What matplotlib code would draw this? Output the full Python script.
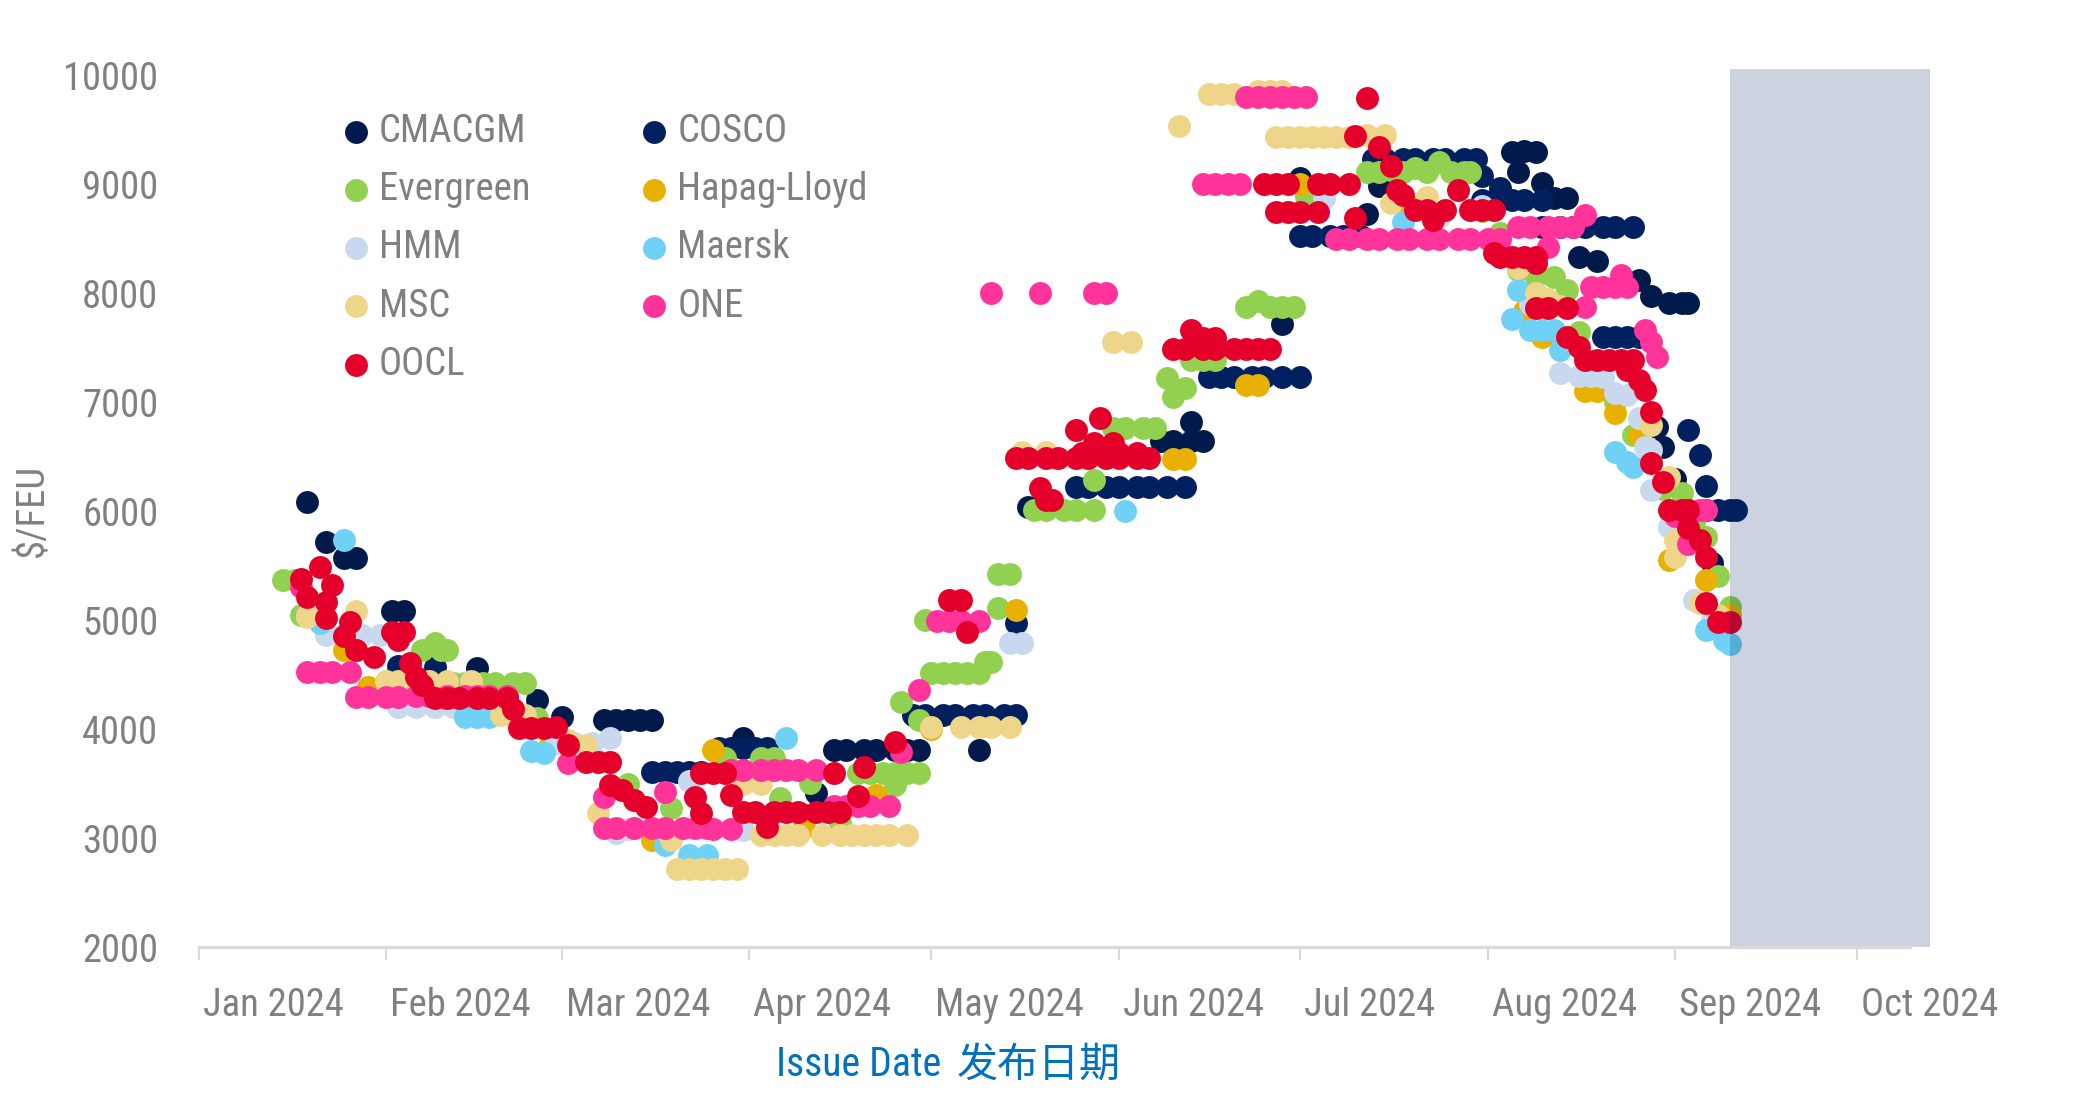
import os
import matplotlib
matplotlib.use('Agg')
import matplotlib.pyplot as plt
import matplotlib.dates as mdates
import matplotlib.transforms as mtransforms
from matplotlib import font_manager as fm
from matplotlib.textpath import TextPath
import pandas as pd

# ---------------- data (day offset from 2024-01-01, $/FEU) ----------------
carriers = ['CMACGM', 'COSCO', 'Evergreen', 'Hapag-Lloyd', 'HMM', 'Maersk', 'MSC', 'ONE', 'OOCL']
colors = ['#021A4B', '#002060', '#92D050', '#E8B000', '#C8D8EE', '#6FD1F6', '#EFD58A', '#FF3399', '#E4002B']

cmacgm_day = [18, 21, 24, 26, 32, 34, 46, 56, 60, 67,
              69, 71, 73, 75, 90, 100, 102, 105, 107, 110,
              112, 115, 117, 119, 129, 137, 159, 161, 164, 166,
              164, 179, 182, 193, 195, 217, 219, 221, 218, 222,
              224, 226, 228, 231, 238, 240, 243, 245, 246, 241,
              242, 244, 250]
cmacgm_val = [6080, 5720, 5570, 5570, 5080, 5080, 4560, 4270, 4110, 4080,
              4080, 4080, 4080, 4080, 3920, 3210, 3410, 3810, 3810, 3810,
              3810, 3810, 3810, 3810, 3810, 6040, 6640, 6640, 6640, 6640,
              6820, 7720, 9060, 8730, 8980, 9290, 9300, 9290, 9110, 9010,
              8870, 8870, 8330, 8290, 8120, 7970, 7910, 7910, 7910, 6770,
              6590, 6290, 5520]

cosco_day = [33, 39, 75, 77, 79, 81, 83, 86, 88, 90,
             92, 94, 118, 120, 123, 125, 128, 130, 133, 135,
             135, 145, 147, 150, 152, 155, 157, 160, 163, 167,
             169, 171, 174, 176, 179, 182, 182, 184, 187, 189,
             192, 194, 196, 199, 201, 204, 206, 209, 211, 212,
             215, 212, 214, 217, 219, 222, 222, 225, 227, 229,
             232, 234, 237, 232, 234, 236, 238, 246, 248, 249,
             249, 251, 253, 254]
cosco_val = [4580, 4570, 3610, 3610, 3610, 3610, 3610, 3830, 3830, 3830,
             3830, 3830, 4130, 4130, 4130, 4130, 4130, 4130, 4130, 4130,
             4970, 6220, 6220, 6220, 6220, 6220, 6220, 6220, 6220, 7230,
             7230, 7230, 7230, 7230, 7230, 7230, 8520, 8520, 8520, 8520,
             8520, 9230, 9230, 9230, 9230, 9230, 9230, 9230, 9230, 9070,
             8960, 8850, 8850, 8850, 8850, 8850, 8610, 8610, 8610, 8610,
             8610, 8610, 8610, 7600, 7600, 7600, 7600, 6740, 6510, 6230,
             6010, 6010, 6010, 6010]

evergreen_day = [14, 16, 17, 37, 39, 40, 41, 42, 44, 47,
                 49, 52, 54, 56, 66, 68, 71, 78, 87, 93,
                 95, 96, 101, 106, 109, 111, 113, 115, 117, 119,
                 115, 116, 119, 120, 121, 123, 125, 127, 129, 130,
                 131, 132, 132, 134, 138, 140, 143, 145, 148, 148,
                 151, 153, 156, 158, 160, 161, 163, 164, 166, 168,
                 173, 175, 177, 179, 181, 183, 184, 193, 195, 197,
                 199, 201, 203, 205, 207, 209, 210, 212, 215, 218,
                 221, 224, 226, 228, 231, 234, 237, 240, 242, 245,
                 247, 249, 251, 253]
evergreen_val = [5370, 5370, 5050, 4725, 4790, 4725, 4725, 4420, 4420, 4420,
                 4420, 4420, 4420, 4100, 3710, 3700, 3500, 3275, 3734, 3734,
                 3734, 3370, 3505, 3140, 3600, 3600, 3600, 3600, 3600, 3600,
                 3490, 4250, 4080, 5000, 4510, 4510, 4510, 4510, 4510, 4615,
                 4615, 5110, 5420, 5420, 6010, 6010, 6010, 6010, 6010, 6285,
                 6760, 6760, 6760, 6760, 7220, 7050, 7130, 7385, 7385, 7385,
                 7870, 7930, 7870, 7870, 7870, 8890, 8930, 9110, 9110, 9130,
                 9110, 9150, 9110, 9200, 9110, 9110, 9110, 8750, 8550, 8210,
                 8150, 8150, 8030, 7640, 7300, 7000, 6700, 6450, 6200, 6165,
                 5900, 5760, 5400, 5120]

hapag_day = [18, 24, 28, 35, 48, 58, 75, 85, 100, 112,
             121, 135, 141, 161, 163, 173, 175, 182, 200, 219,
             222, 229, 231, 234, 238, 243, 249, 253]
hapag_val = [5050, 4725, 4390, 4450, 4200, 3850, 2980, 3810, 3100, 3395,
             4000, 5090, 6500, 6480, 6480, 7160, 7160, 9000, 8800, 7840,
             7600, 7100, 7100, 6900, 6700, 5550, 5370, 5050]

hmm_day = [18, 21, 24, 27, 30, 33, 36, 39, 42, 45,
           48, 59, 62, 65, 68, 69, 71, 81, 90, 134,
           136, 186, 205, 212, 220, 225, 228, 230, 232, 234,
           236, 238, 239, 240, 240, 243, 247, 250]
hmm_val = [5050, 4860, 4860, 4860, 4860, 4205, 4205, 4205, 4205, 4205,
           4205, 3870, 3870, 3870, 3920, 3050, 3080, 3520, 3075, 4790,
           4790, 8870, 8700, 8800, 7900, 7270, 7240, 7240, 7230, 7080,
           7064, 6850, 6590, 6560, 6190, 5850, 5180, 5000]

maersk_day = [20, 24, 44, 46, 48, 55, 57, 77, 81, 84,
              97, 153, 199, 217, 218, 220, 222, 224, 225, 234,
              236, 237, 249, 252, 253]
maersk_val = [4970, 5730, 4110, 4110, 4110, 3800, 3780, 2940, 2840, 2840,
              3920, 6000, 8650, 7760, 8030, 7660, 7660, 7660, 7480, 6540,
              6450, 6400, 4910, 4820, 4780]

msc_day = [18, 26, 31, 33, 36, 38, 41, 45, 50, 52,
           54, 61, 64, 66, 78, 79, 81, 83, 85, 87,
           89, 90, 93, 93, 95, 97, 99, 103, 106, 108,
           110, 112, 114, 117, 121, 126, 129, 131, 134, 136,
           140, 151, 154, 162, 167, 169, 171, 175, 177, 179,
           178, 180, 182, 184, 186, 188, 190, 193, 196, 197,
           203, 218, 221, 223, 225, 240, 243, 244, 244, 248,
           251]
msc_val = [5030, 5080, 4440, 4440, 4440, 4440, 4440, 4440, 4130, 4130,
           4130, 3900, 3850, 3230, 2980, 2720, 2720, 2720, 2720, 2720,
           2720, 3500, 3500, 3030, 3030, 3030, 3030, 3030, 3030, 3030,
           3030, 3030, 3030, 3030, 4020, 4020, 4020, 4020, 4020, 6540,
           6540, 7550, 7550, 9530, 9830, 9830, 9830, 9850, 9850, 9850,
           9430, 9430, 9430, 9430, 9430, 9430, 9430, 9450, 9450, 8830,
           8880, 8230, 8000, 7950, 7880, 6790, 6315, 5734, 5580, 5160,
           5050]

one_day = [17, 18, 20, 22, 25, 26, 28, 31, 33, 36,
           38, 41, 44, 46, 48, 51, 61, 67, 67, 69,
           72, 75, 77, 77, 80, 82, 84, 85, 88, 88,
           90, 93, 95, 97, 99, 102, 105, 107, 109, 111,
           114, 116, 119, 122, 124, 126, 129, 131, 139, 148,
           150, 166, 168, 170, 172, 173, 175, 177, 179, 181,
           183, 188, 190, 193, 195, 198, 200, 203, 205, 208,
           210, 213, 215, 218, 220, 223, 225, 227, 229, 223,
           229, 230, 232, 234, 235, 236, 239, 240, 241, 244,
           246, 248, 249, 246]
one_val = [5300, 4520, 4520, 4520, 4520, 4290, 4290, 4290, 4290, 4300,
           4300, 4300, 4300, 4300, 4300, 4300, 3690, 3380, 3090, 3090,
           3090, 3090, 3090, 3425, 3090, 3090, 3090, 3080, 3080, 3624,
           3624, 3624, 3624, 3624, 3624, 3624, 3290, 3290, 3290, 3290,
           3290, 3790, 4360, 4990, 4990, 4990, 4990, 8000, 8000, 8000,
           8000, 9000, 9000, 9000, 9000, 9800, 9800, 9800, 9800, 9800,
           9800, 8500, 8500, 8500, 8500, 8500, 8500, 8500, 8500, 8500,
           8500, 8500, 8500, 8610, 8610, 8610, 8610, 8610, 8720, 8425,
           7875, 8060, 8060, 8060, 8165, 8060, 7660, 7550, 7416, 5950,
           6010, 6010, 6010, 5700]

oocl_day = [17, 18, 20, 21, 21, 22, 24, 25, 26, 29,
            32, 33, 34, 35, 36, 37, 39, 41, 43, 46,
            48, 51, 52, 53, 55, 57, 59, 61, 64, 66,
            68, 68, 70, 72, 74, 82, 83, 83, 85, 87,
            88, 90, 92, 95, 97, 99, 102, 104, 106, 94,
            105, 109, 110, 115, 124, 126, 127, 135, 137, 140,
            142, 145, 147, 150, 152, 155, 157, 139, 140, 141,
            145, 146, 148, 150, 152, 155, 148, 151, 149, 161,
            163, 166, 168, 171, 173, 175, 177, 164, 166, 168,
            176, 178, 180, 178, 180, 182, 185, 185, 187, 190,
            191, 191, 193, 195, 197, 198, 199, 201, 203, 206,
            204, 208, 210, 212, 214, 215, 217, 219, 221, 214,
            221, 221, 223, 226, 226, 228, 229, 231, 233, 235,
            237, 236, 238, 239, 240, 240, 242, 243, 245, 246,
            246, 248, 249, 249, 251, 253]
oocl_val = [5380, 5210, 5490, 5020, 5170, 5320, 4850, 4985, 4725, 4660,
            4893, 4817, 4893, 4603, 4480, 4404, 4282, 4282, 4282, 4282,
            4282, 4282, 4181, 4007, 4007, 4007, 4020, 3853, 3700, 3700,
            3700, 3486, 3440, 3350, 3287, 3379, 3227, 3594, 3594, 3594,
            3395, 3242, 3242, 3242, 3242, 3242, 3242, 3242, 3242, 3104,
            3594, 3386, 3655, 3884, 5184, 5184, 4893, 6486, 6486, 6486,
            6486, 6486, 6486, 6486, 6486, 6486, 6486, 6210, 6100, 6100,
            6743, 6532, 6532, 6532, 6532, 6532, 6624, 6624, 6850, 7484,
            7484, 7484, 7484, 7484, 7484, 7484, 7484, 7660, 7590, 7590,
            9000, 9000, 9000, 8740, 8740, 8740, 8740, 9000, 9000, 9000,
            8690, 9440, 9790, 9340, 9170, 8945, 8900, 8762, 8762, 8762,
            8670, 8945, 8762, 8762, 8762, 8333, 8333, 8333, 8333, 8370,
            8275, 7862, 7862, 7862, 7600, 7505, 7385, 7385, 7385, 7385,
            7385, 7293, 7200, 7110, 6911, 6437, 6269, 6009, 6009, 6009,
            5844, 5734, 5581, 5156, 4985, 4985]

series_days = [cmacgm_day, cosco_day, evergreen_day, hapag_day, hmm_day,
               maersk_day, msc_day, one_day, oocl_day]
series_vals = [cmacgm_val, cosco_val, evergreen_val, hapag_val, hmm_val,
               maersk_val, msc_val, one_val, oocl_val]

month_ticks = pd.date_range('2024-01-01', '2024-10-01', freq='MS')
y_ticks = [2000, 3000, 4000, 5000, 6000, 7000, 8000, 9000, 10000]
base = pd.Timestamp('2024-01-01')
forecast_start = pd.Timestamp('2024-09-10')


# ---------------- font: pick a condensed face if one is installed ----------------
def pick_condensed():
    bad = ['bold', 'italic', 'oblique', 'light', 'thin', 'black', 'medium',
           'semibold', 'extrabold', 'heavy', 'mono']
    pref = ['roboto', 'notosans', 'noto sans', 'opensans', 'open sans', 'lato',
            'dejavusans', 'liberation']
    best = None
    for f in fm.fontManager.ttflist:
        b = os.path.basename(f.fname).lower()
        if f.style != 'normal' or any(k in b for k in bad):
            continue
        st = str(f.stretch)
        cond = ('condensed' in b or 'narrow' in b or 'cond' in b
                or st in ('condensed', 'semi-condensed', 'extra-condensed'))
        if not cond or 'cjk' in b:
            continue
        key = 99
        for i, p in enumerate(pref):
            if p in b or p in f.name.lower().replace(' ', ''):
                key = i
                break
        if 'semi' in b or 'extra' in b or 'ultra' in b:
            key += 20
        if best is None or key < best[0]:
            best = (key, f.fname)
    return best[1] if best else None


cpath = pick_condensed()
if cpath:
    TXT = fm.FontProperties(fname=cpath)
else:
    TXT = fm.FontProperties(family='DejaVu Sans')


def fit_size(s, target_px, maxpt):
    w = TextPath((0, 0), s, size=10, prop=TXT).get_extents().width * 100 / 72
    return min(maxpt, 10 * target_px / w)


FS = min(fit_size('Jan 2024', 145, 30), fit_size('10000', 90, 30))
FSPX = FS * 100 / 72


def P(size):
    p = TXT.copy()
    p.set_size(size)
    return p


# ---------------- figure ----------------
GRAY = '#808080'
fig = plt.figure(figsize=(20.79, 11.04), dpi=100)
ax = fig.add_axes([0.09548, 0.14221, 0.8327, 0.7957])

handles = []
for i, (name, col) in enumerate(zip(carriers, colors)):
    dts = base + pd.to_timedelta(series_days[i], unit='D')
    h = ax.scatter(dts, series_vals[i], s=272, color=col, linewidths=0,
                   zorder=2 + i * 0.01, label=name)
    handles.append(h)

x0 = base
x1 = base + pd.Timedelta(days=286)
ax.set_xlim(x0, x1)
ax.set_ylim(2000, 10060)

ax.axvspan(forecast_start, x1, color='#00205F', alpha=0.2, lw=0, zorder=5)

for s in ['top', 'right', 'left']:
    ax.spines[s].set_visible(False)
ax.spines['bottom'].set_color('#D9D9D9')
ax.spines['bottom'].set_linewidth(2.3)
ax.spines['bottom'].set_bounds(mdates.date2num(x0),
                               mdates.date2num(base + pd.Timedelta(days=282.7)))
ax.spines['bottom'].set_zorder(6)

ax.set_xticks(month_ticks)
ax.set_xticklabels([d.strftime('%b %Y') for d in month_ticks])
ax.set_yticks(y_ticks)
ax.set_yticklabels([str(v) for v in y_ticks])
ax.tick_params(axis='x', length=9.5, width=1.5, color='#D9D9D9',
               labelcolor=GRAY, pad=19)
ax.tick_params(axis='y', length=0, labelcolor=GRAY, pad=29)
off = mtransforms.ScaledTranslation(4 / 100, 0, fig.dpi_scale_trans)
for lab in ax.get_xticklabels():
    lab.set_horizontalalignment('left')
    lab.set_transform(lab.get_transform() + off)
    lab.set_fontproperties(P(FS))
for lab in ax.get_yticklabels():
    lab.set_fontproperties(P(FS))

fig.text(33 / 2079, 1 - 510 / 1104, '\\$/FEU', rotation=90, ha='center', va='center',
         color=GRAY, fontproperties=P(FS))
fig.text(941 / 2079, 1 - 1065 / 1104, 'Issue Date', ha='right', va='center',
         color='#0070C0', fontproperties=P(FS * 1.03))
fig.text(957 / 2079, 1 - 1065 / 1104, '发布日期', ha='left', va='center',
         color='#0070C0', fontsize=29.5, family=['Noto Sans CJK SC', 'DejaVu Sans'])

order = [0, 2, 4, 6, 8, 1, 3, 5, 7]
leg = ax.legend([handles[k] for k in order], [carriers[k] for k in order],
                ncol=2, loc='upper left', bbox_to_anchor=(344 / 2079, 1 - 113 / 1104),
                bbox_transform=fig.transFigure, frameon=False,
                prop=P(FS), labelcolor=GRAY,
                handlelength=0.6, handletextpad=0.3,
                columnspacing=2.6 + 12 / FSPX,
                labelspacing=0.36 + 7.3 / FSPX,
                borderpad=0, borderaxespad=0, scatterpoints=1)
leg.set_zorder(10)

fig.savefig('out.png', dpi=100)
